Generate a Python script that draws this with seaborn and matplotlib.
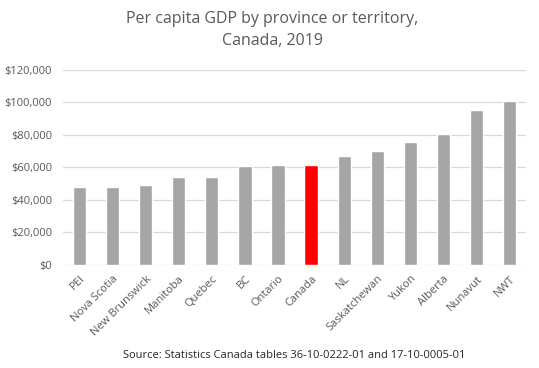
import matplotlib
matplotlib.use("Agg")
import matplotlib.pyplot as plt
import seaborn as sns
import pandas as pd
from matplotlib.ticker import FuncFormatter

# Per capita GDP, 2019
regions = ["PEI", "Nova Scotia", "New Brunswick", "Manitoba", "Quebec", "BC",
           "Ontario", "Canada", "NL", "Saskatchewan", "Yukon", "Alberta",
           "Nunavut", "NWT"]
gdp = [47800, 47800, 49000, 53900, 53900, 60600, 61200, 61200, 67300,
       70400, 75900, 80800, 95500, 101000]
highlight = "Canada"

df = pd.DataFrame({"region": regions, "gdp": gdp})
palette = {r: ("#FF0000" if r == highlight else "#A5A5A5") for r in regions}

sns.set_style("white")
plt.rcParams["font.family"] = ["Open Sans", "DejaVu Sans"]
text_col = "#595959"

fig = plt.figure(figsize=(5.39, 3.68), dpi=100)
ax = fig.add_axes([0.117, 0.280, 0.859, 0.530])

sns.barplot(data=df, x="region", y="gdp", hue="region", palette=palette,
            width=0.4, legend=False, ax=ax, saturation=1)

ax.set_ylim(0, 120000)
ax.set_yticks(range(0, 120001, 20000))
ax.yaxis.set_major_formatter(FuncFormatter(lambda v, p: f"${v:,.0f}"))
ax.grid(axis="y", color="#D9D9D9", linewidth=0.9)
ax.set_axisbelow(True)
for s in ax.spines.values():
    s.set_visible(False)
ax.tick_params(axis="both", length=0, labelsize=8, colors=text_col)
ax.tick_params(axis="y", pad=8)
ax.tick_params(axis="x", pad=6)
ax.set_xlabel("")
ax.set_ylabel("")
plt.setp(ax.get_xticklabels(), rotation=45, ha="right", rotation_mode="anchor")

fig.text(0.505, 0.918, "Per capita GDP by province or territory,\nCanada, 2019",
         ha="center", va="center", fontsize=11.5, color=text_col, linespacing=1.55)
fig.text(0.545, 0.035, "Source: Statistics Canada tables 36-10-0222-01 and 17-10-0005-01",
         ha="center", va="center", fontsize=8, color="#262626")

fig.savefig("out.png", dpi=100)
